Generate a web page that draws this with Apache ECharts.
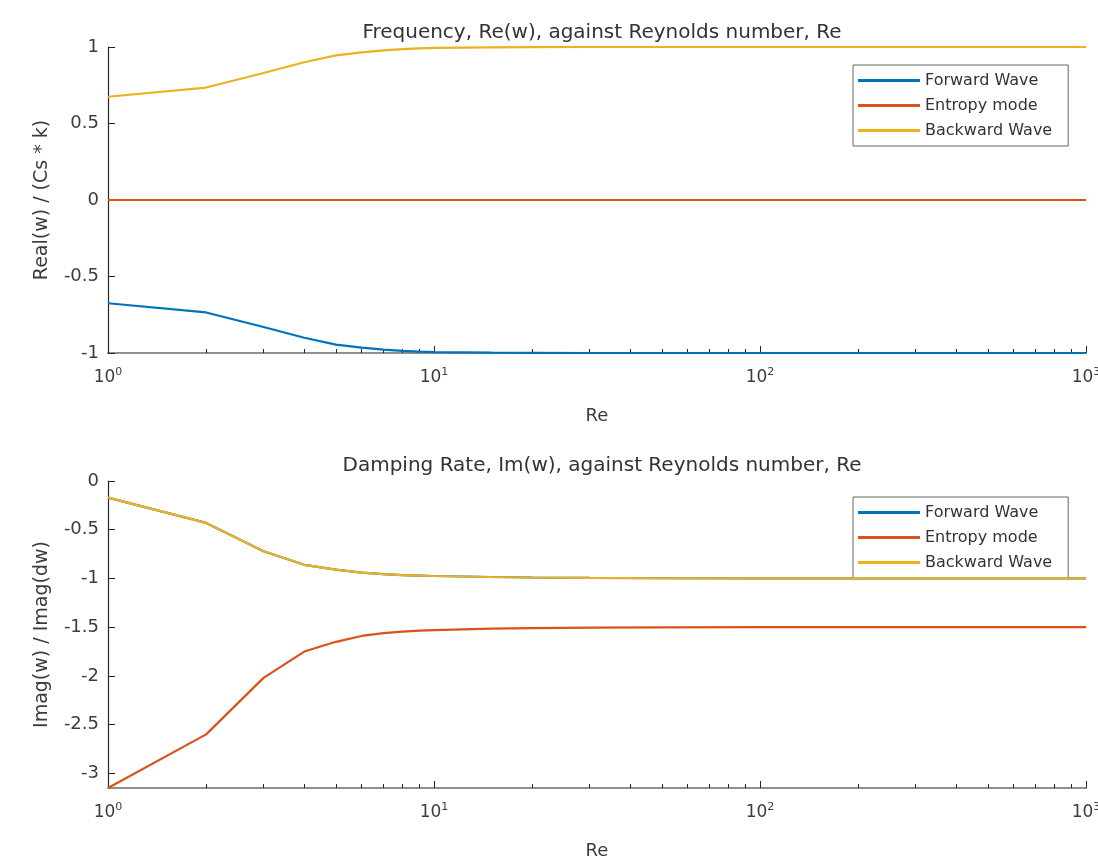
<!DOCTYPE html>
<html>
<head>
<meta charset="utf-8">
<script src="https://cdn.jsdelivr.net/npm/echarts@6/dist/echarts.min.js"></script>
<style>html,body{margin:0;padding:0;background:#fff}#c{width:1098px;height:857px}</style>
</head>
<body>
<div id="c"></div>
<script>
// Reynolds numbers (x)
const reValues = [1, 2, 3, 4, 5, 6, 7, 8, 9, 10, 15, 20, 30, 50, 100, 200, 500, 1000];
// Top: Real(w)/(Cs*k)
const topForward  = [-0.675, -0.735, -0.83, -0.90, -0.945, -0.965, -0.978, -0.986, -0.991, -0.994, -0.998, -0.999, -1, -1, -1, -1, -1, -1];
const topEntropy  = [0, 0, 0, 0, 0, 0, 0, 0, 0, 0, 0, 0, 0, 0, 0, 0, 0, 0];
const topBackward = [0.675, 0.735, 0.83, 0.90, 0.945, 0.965, 0.978, 0.986, 0.991, 0.994, 0.998, 0.999, 1, 1, 1, 1, 1, 1];
// Bottom: Imag(w)/Imag(dw)
const botForward  = [-0.17, -0.43, -0.72, -0.86, -0.91, -0.94, -0.955, -0.965, -0.97, -0.975, -0.985, -0.99, -0.995, -0.998, -1, -1, -1, -1];
const botEntropy  = [-3.15, -2.6, -2.02, -1.75, -1.65, -1.59, -1.56, -1.545, -1.535, -1.53, -1.515, -1.51, -1.505, -1.502, -1.5, -1.5, -1.5, -1.5];
const botBackward = [-0.17, -0.43, -0.72, -0.86, -0.91, -0.94, -0.955, -0.965, -0.97, -0.975, -0.985, -0.99, -0.995, -0.998, -1, -1, -1, -1];
// Tick labels
const xMajorTicks = [1, 10, 100, 1000];
const xMinorTicks = [2, 3, 4, 5, 6, 7, 8, 9, 20, 30, 40, 50, 60, 70, 80, 90, 200, 300, 400, 500, 600, 700, 800, 900];
const topYTicks = [-1, -0.5, 0, 0.5, 1];
const botYTicks = [-3, -2.5, -2, -1.5, -1, -0.5, 0];
const seriesNames = ['Forward Wave', 'Entropy mode', 'Backward Wave'];
const titles = ['Frequency, Re(w), against Reynolds number, Re', 'Damping Rate, Im(w), against Reynolds number, Re'];
const yNames = ['Real(w) / (Cs * k)', 'Imag(w) / Imag(dw)'];

const colors = ['#0072BD', '#D95319', '#EDB120'];
const FONT = 'DejaVu Sans, Liberation Sans, sans-serif';
const txt = '#3c3c3c';

function zip(ys) { return reValues.map((x, i) => [x, ys[i]]); }

function xAxes(gi) {
  return [{
    type: 'log', logBase: 10, gridIndex: gi, min: 1, max: 1000, position: 'bottom',
    name: 'Re', nameLocation: 'middle', nameGap: 54,
    nameTextStyle: { fontFamily: FONT, fontSize: 18, color: txt },
    axisLine: { onZero: false, lineStyle: { color: '#8f8f8f', width: 2 } },
    axisTick: { inside: true, length: 7, customValues: xMajorTicks, lineStyle: { color: '#262626', width: 1 } },
    axisLabel: {
      customValues: xMajorTicks, margin: 14, color: txt, fontFamily: FONT, fontSize: 17,
      formatter: v => '10{s|' + Math.round(Math.log10(v)) + '}',
      rich: { s: { fontSize: 11, fontFamily: FONT, color: txt, padding: [0, 0, 10, 0] } }
    },
    splitLine: { show: false }
  }, {
    type: 'log', logBase: 10, gridIndex: gi, min: 1, max: 1000, position: 'bottom',
    axisLine: { show: false, onZero: false },
    axisTick: { inside: true, length: 4, customValues: xMinorTicks, lineStyle: { color: '#262626', width: 1 } },
    axisLabel: { show: false },
    splitLine: { show: false }
  }];
}

function yAxis(gi, min, max, ticks, name) {
  return {
    type: 'value', gridIndex: gi, min: min, max: max,
    name: name, nameLocation: 'middle', nameGap: 56, nameRotate: 90,
    nameTextStyle: { fontFamily: FONT, fontSize: 19, color: txt },
    axisLine: { show: true, onZero: false, lineStyle: { color: '#262626', width: 1.2 } },
    axisTick: { show: true, inside: true, length: 7, customValues: ticks, lineStyle: { color: '#262626' } },
    axisLabel: { customValues: ticks, color: txt, fontFamily: FONT, fontSize: 18, margin: 9, formatter: v => String(v) },
    splitLine: { show: false }
  };
}

function lineSeries(name, gi, ys, ci, z) {
  return {
    name: name, type: 'line', xAxisIndex: gi * 2, yAxisIndex: gi,
    data: zip(ys), showSymbol: false, symbol: 'none', smooth: false,
    lineStyle: { color: colors[ci], width: 2.2 }, itemStyle: { color: colors[ci] }, z: z,
    animation: false
  };
}

function legend(top) {
  return {
    data: seriesNames, orient: 'vertical', left: 853, top: top,
    icon: 'rect', itemWidth: 62, itemHeight: 3, itemGap: 6,
    backgroundColor: '#fff', borderColor: '#666', borderWidth: 1,
    padding: [6, 16, 6, 5], borderRadius: 0,
    textStyle: { fontFamily: FONT, fontSize: 16, lineHeight: 19, color: '#333' },
    selectedMode: false
  };
}

const chart = echarts.init(document.getElementById('c'), null, { renderer: 'canvas' });
chart.setOption({
  animation: false,
  backgroundColor: '#fff',
  title: [
    { text: titles[0], left: 597, top: 18, textAlign: 'center', textStyle: { fontFamily: FONT, fontSize: 20, fontWeight: 'normal', color: '#333' } },
    { text: titles[1], left: 597, top: 451, textAlign: 'center', textStyle: { fontFamily: FONT, fontSize: 20, fontWeight: 'normal', color: '#333' } }
  ],
  legend: [legend(65), legend(497)],
  grid: [
    { left: 108, right: 12, top: 47, height: 306, containLabel: false, outerBoundsMode: 'none' },
    { left: 108, right: 12, top: 481, height: 307, containLabel: false, outerBoundsMode: 'none' }
  ],
  xAxis: xAxes(0).concat(xAxes(1)),
  yAxis: [
    yAxis(0, -1, 1, topYTicks, yNames[0]),
    yAxis(1, -3.15, 0, botYTicks, yNames[1])
  ],
  series: [
    lineSeries(seriesNames[0], 0, topForward, 0, 2),
    lineSeries(seriesNames[1], 0, topEntropy, 1, 3),
    lineSeries(seriesNames[2], 0, topBackward, 2, 4),
    lineSeries(seriesNames[0], 1, botForward, 0, 2),
    lineSeries(seriesNames[1], 1, botEntropy, 1, 3),
    lineSeries(seriesNames[2], 1, botBackward, 2, 4)
  ]
});
</script>
</body>
</html>
